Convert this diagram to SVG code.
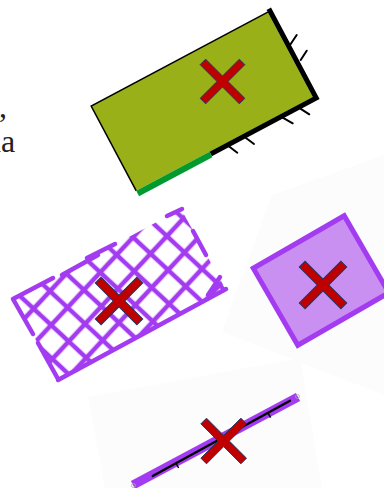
<svg xmlns="http://www.w3.org/2000/svg" width="384" height="488" viewBox="0 0 384 488">
<style>
.x{fill:#c00000;stroke:#203864;stroke-width:1}
.tick{stroke:#000;stroke-width:2;stroke-linecap:round;fill:none}
.pu{stroke:#a33cf0;fill:none;stroke-width:4.5;stroke-linecap:round}
.txt{font-family:"Liberation Serif","Times New Roman",serif;font-size:32px;fill:#222}
.faint{fill:#fcfcfc}
</style>
<defs>
<path id="cross" d="M0,-5.6 L17.2,-22.8 L22.8,-17.2 L5.6,0 L22.8,17.2 L17.2,22.8 L0,5.6 L-17.2,22.8 L-22.8,17.2 L-5.6,0 L-22.8,-17.2 L-17.2,-22.8 Z"/>
<pattern id="grid" width="24" height="24" patternUnits="userSpaceOnUse" patternTransform="translate(6 4) rotate(43)">
<path d="M0,12H24M12,0V24" stroke="#a33cf0" stroke-width="4.6"/>
</pattern>
<clipPath id="hclip"><polygon points="13,299 181,209 226,290 58,380"/></clipPath>
</defs>
<rect width="384" height="488" fill="#fff"/>
<g id="text">
<text class="txt" x="-1" y="117">,</text>
<text class="txt" x="-15" y="152">na</text>
</g>
<g id="node-green">
<g transform="rotate(-28 202 101.5)">
<rect x="102" y="53.5" width="200" height="96" fill="#99b018"/>
<path d="M102,149.5V53.5H302" fill="none" stroke="#000" stroke-width="1.5"/>
<path d="M304.5,51V152H185" fill="none" stroke="#000" stroke-width="5"/>
<path d="M102,152.5H185" stroke="#009a2e" stroke-width="6"/>
</g>
<path class="tick" d="M228.5,146L237.3,152.7M245,137.3L254,144M282.7,117.7L292.7,123.3M300,108.3L309.3,114.3M290,45L296.7,35M300.7,60L306.7,50.7"/>
<use href="#cross" class="x" transform="translate(222.5 81.5) scale(0.98)"/>
</g>
<g id="node-hatch">
<g clip-path="url(#hclip)"><rect x="0" y="200" width="240" height="190" fill="url(#grid)"/></g>
<path class="pu" d="M13,299L53,278M62,275L98,255M87,258L115,244M167,216L182,209M193,231L206,255M220,277L208,295M226,289L58,380M13,299L33,334M38,343L58,379"/>
<use href="#cross" class="x" transform="translate(119 301) scale(1.04)"/>
</g>
<g id="node-purple">
<polygon class="faint" points="272,195 384,155 384,395 222,332"/>
<rect x="268.5" y="236" width="105" height="89" transform="rotate(-30 321 280.5)" fill="#c990f2" stroke="#a33cf0" stroke-width="5"/>
<use href="#cross" class="x" transform="translate(323 285) scale(1.04)"/>
</g>
<g id="node-line">
<polygon class="faint" points="88,397 300,358 322,488 105,488"/>
<line x1="133" y1="485" x2="298" y2="397" stroke="#a33cf0" stroke-width="9"/>
<line x1="152.7" y1="476" x2="290" y2="400.7" stroke="#000" stroke-width="2.2" stroke-linecap="round"/>
<path d="M176,463.2L178.6,468M268,412.8L270.6,417.6" stroke="#000" stroke-width="1.5" fill="none"/>
<circle cx="297.5" cy="396.5" r="2" fill="none" stroke="#aaa" stroke-width="0.8"/>
<circle cx="133.5" cy="485.5" r="2" fill="none" stroke="#aaa" stroke-width="0.8"/>
<use href="#cross" class="x" transform="translate(223.7 441) scale(1)"/>
</g>
</svg>
